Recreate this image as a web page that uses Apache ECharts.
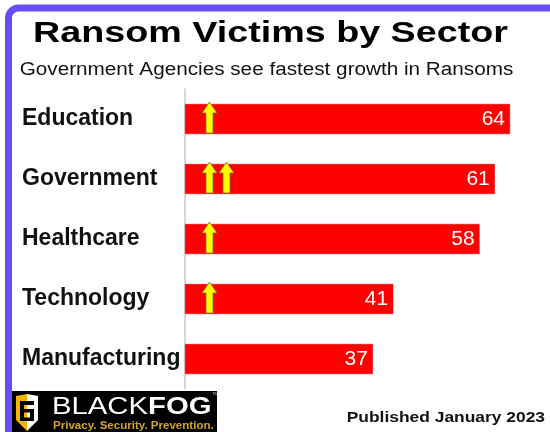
<!DOCTYPE html>
<html>
<head>
<meta charset="utf-8">
<script src="https://cdn.jsdelivr.net/npm/echarts@6/dist/echarts.min.js"></script>
<style>
  html, body { margin: 0; padding: 0; background: #ffffff; }
  #chart { width: 550px; height: 432px; }
</style>
</head>
<body>
<div id="chart"></div>
<script>
// ---- data ----
const categories = ['Education', 'Government', 'Healthcare', 'Technology', 'Manufacturing'];
const victims = [64, 61, 58, 41, 37];
const growthArrows = [1, 2, 1, 1, 0];
const titleText = 'Ransom Victims by Sector';
const subtitleText = 'Government Agencies see fastest growth in Ransoms';
const publishedText = 'Published January 2023';

const FONT = 'Arial, "Liberation Sans", Helvetica, sans-serif';
const chart = echarts.init(document.getElementById('chart'), null, { renderer: 'canvas' });

const arrowData = categories.map((c, i) => [i, growthArrows[i]]);

function renderArrows(params, api) {
  const idx = api.value(0);
  const count = api.value(1);
  const base = api.coord([0, idx]);
  const children = [];
  const bottom = base[1] + 14;
  const top = base[1] - 17;
  for (let k = 0; k < count; k++) {
    const x0 = base[0] + 17 + k * 17;
    children.push({
      type: 'polygon',
      shape: {
        points: [
          [x0 + 7.5, top], [x0 + 15, top + 11], [x0 + 11, top + 11],
          [x0 + 11, bottom], [x0 + 4, bottom], [x0 + 4, top + 11], [x0, top + 11]
        ]
      },
      style: { fill: '#ffff00', stroke: '#70703a', lineWidth: 0.8 }
    });
  }
  return { type: 'group', children: children };
}

const option = {
  backgroundColor: '#ffffff',
  animation: false,
  grid: { left: 185, top: 89, width: 355.5, height: 300 },
  xAxis: {
    type: 'value', min: 0, max: 70, show: false,
    splitLine: { show: false }
  },
  yAxis: {
    type: 'category', data: categories, inverse: true,
    axisLine: { show: true, lineStyle: { color: '#c8c8c8', width: 1.5 } },
    axisTick: { show: false },
    axisLabel: {
      align: 'left', margin: 163, color: '#111111',
      fontFamily: FONT, fontWeight: 'bold', fontSize: 23
    }
  },
  series: [
    {
      type: 'bar', data: victims, barWidth: 30,
      itemStyle: { color: '#fe0000', borderColor: '#d40000', borderWidth: 0.5 },
      label: {
        show: true, position: 'insideRight', distance: 5,
        color: '#ffffff', fontFamily: FONT, fontSize: 21
      },
      z: 2
    },
    {
      type: 'custom', data: arrowData, renderItem: renderArrows,
      encode: { x: 1, y: 0 }, z: 5, silent: true
    }
  ],
  graphic: [
    {
      type: 'rect', silent: true,
      shape: { x: 8.5, y: 8, width: 700, height: 700, r: 10 },
      style: { fill: 'none', stroke: '#6a4cf2', lineWidth: 7 }
    },
    {
      type: 'text', x: 270.5, y: 34, scaleX: 1.3,
      style: {
        text: titleText, font: 'bold 29px ' + FONT, fill: '#000000',
        textAlign: 'center', textVerticalAlign: 'middle'
      }
    },
    {
      type: 'text', x: 266.5, y: 70, scaleX: 1.15,
      style: {
        text: subtitleText, font: '18px ' + FONT, fill: '#111111',
        textAlign: 'center', textVerticalAlign: 'middle'
      }
    },
    {
      type: 'text', x: 545, y: 418, scaleX: 1.2,
      style: {
        text: publishedText, font: 'bold 14.5px ' + FONT, fill: '#111111',
        textAlign: 'right', textVerticalAlign: 'middle'
      }
    },
    // logo
    {
      type: 'group',
      children: [
        { type: 'rect', shape: { x: 12, y: 391, width: 205, height: 41 }, style: { fill: '#000000' } },
        { type: 'polygon', shape: { points: [[16, 396], [27, 394], [27, 431], [16, 420]] }, style: { fill: '#f5b400' } },
        { type: 'polygon', shape: { points: [[27, 394], [38, 396], [38, 420], [27, 431]] }, style: { fill: '#ffffff' } },
        { type: 'rect', shape: { x: 20, y: 401, width: 4, height: 20 }, style: { fill: '#000000' } },
        { type: 'rect', shape: { x: 20, y: 401, width: 14, height: 4 }, style: { fill: '#000000' } },
        { type: 'rect', shape: { x: 20, y: 409, width: 12, height: 3.5 }, style: { fill: '#000000' } },
        { type: 'rect', shape: { x: 30, y: 409, width: 4, height: 12 }, style: { fill: '#000000' } },
        { type: 'rect', shape: { x: 24, y: 417.5, width: 10, height: 3.5 }, style: { fill: '#000000' } },
        {
          type: 'text', x: 52, y: 407, scaleX: 1.22,
          style: {
            text: '{a|BLACK}{b|FOG}', textVerticalAlign: 'middle',
            rich: {
              a: { fontFamily: FONT, fontSize: 24, fill: '#ffffff', color: '#ffffff' },
              b: { fontFamily: FONT, fontSize: 24, fontWeight: 'bold', fill: '#ffffff', color: '#ffffff' }
            }
          }
        },
        {
          type: 'text', x: 212, y: 394,
          style: { text: 'TM', font: '4px ' + FONT, fill: '#cccccc', textVerticalAlign: 'middle' }
        },
        {
          type: 'text', x: 53, y: 426.5, scaleX: 1.1,
          style: {
            text: 'Privacy. Security. Prevention.', font: 'bold 10.5px ' + FONT,
            fill: '#d4a52a', textVerticalAlign: 'middle'
          }
        }
      ]
    }
  ]
};
chart.setOption(option);
</script>
</body>
</html>
